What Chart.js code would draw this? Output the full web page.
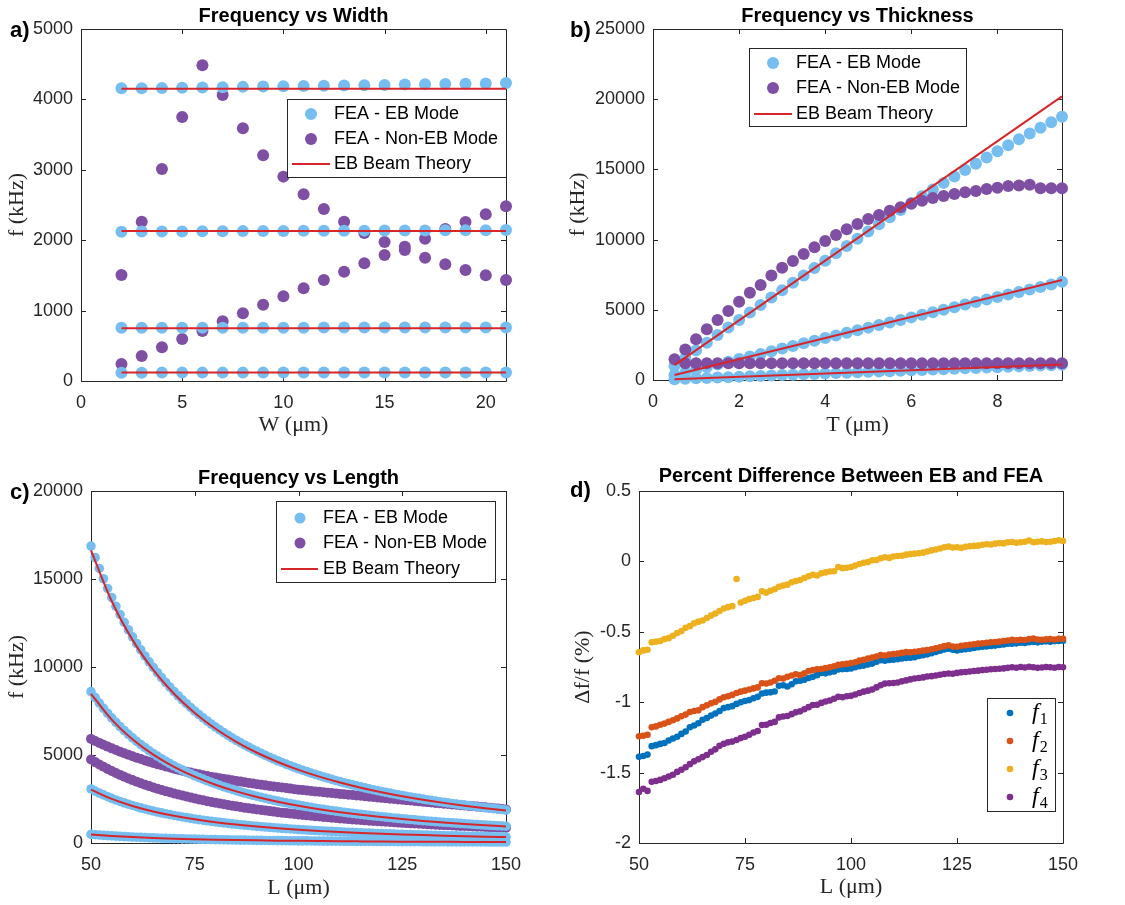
<!DOCTYPE html>
<html>
<head>
<meta charset="utf-8">
<title>Frequency study</title>
<script src="https://cdn.jsdelivr.net/npm/chart.js@4/dist/chart.umd.min.js"></script>
<style>
  body { margin: 0; background: #fff; }
  #wrap { position: relative; width: 1125px; height: 905px; }
  canvas { position: absolute; }
</style>
</head>
<body>
<div id="wrap">
  <canvas id="chartA" width="560" height="440" style="left:0;top:0"></canvas>
  <canvas id="chartB" width="565" height="440" style="left:560px;top:0"></canvas>
  <canvas id="chartC" width="560" height="455" style="left:0;top:450px"></canvas>
  <canvas id="chartD" width="565" height="455" style="left:560px;top:450px"></canvas>
</div>
<script>
// a) frequency vs width
const widthW = [2,3,4,5,6,7,8,9,10,11,12,13,14,15,16,17,18,19,20,21];
const widthEb1 = [118,118,119,119,119,119,119,119,120,120,120,120,120,120,120,121,121,121,121,121];
const widthEb2 = [755,756,756,757,757,757,758,758,758,758,759,759,759,759,760,760,760,760,761,761];
const widthEb3 = [2121,2122,2124,2125,2126,2128,2129,2130,2131,2133,2134,2135,2136,2137,2138,2139,2140,2142,2143,2145];
const widthEb4 = [4157,4160,4163,4167,4170,4174,4178,4182,4186,4190,4194,4198,4202,4206,4210,4214,4218,4222,4227,4232];
const widthNonEbA = [1506,2263,3011,3750,4484,4063,3589,3206,2903,2652,2443,2263,2102,1975,1908,1752,1657,1577,1501,1435];
const widthNonEbB = [241,355,478,597,710,848,961,1084,1203,1316,1435,1553,1672,1790,1861,2022,2159,2259,2368,2481];
const widthTheoryW = [2, 21];
const widthTheory1 = [120, 120];
const widthTheory2 = [750, 750];
const widthTheory3 = [2130, 2130];
const widthTheory4 = [4150, 4150];

// b) frequency vs thickness
const thickT = [0.5,0.75,1,1.25,1.5,1.75,2,2.25,2.5,2.75,3,3.25,3.5,3.75,4,4.25,4.5,4.75,5,5.25,5.5,5.75,6,6.25,6.5,6.75,7,7.25,7.5,7.75,8,8.25,8.5,8.75,9,9.25,9.5];
const thickEb1 = [60,90,120,150,180,200,230,260,290,320,350,380,410,430,460,490,520,550,580,600,630,660,690,720,750,770,800,830,860,890,910,940,970,1000,1030,1050,1080];
const thickEb2 = [360,540,730,920,1110,1300,1490,1680,1860,2050,2240,2430,2610,2800,2990,3170,3360,3540,3730,3910,4100,4280,4460,4650,4830,5010,5190,5370,5550,5730,5910,6090,6270,6450,6630,6810,6990];
const thickEb3 = [1000,1560,2110,2660,3200,3740,4270,4810,5340,5870,6400,6920,7450,7970,8500,9020,9540,10060,10580,11090,11600,12100,12600,13090,13570,14040,14500,14960,15410,15850,16290,16720,17140,17550,17960,18360,18750];
const thickNonEbFlat = [null,1190,1190,1190,1190,1195,1195,1195,1195,1195,1195,1195,1195,1200,1200,1200,1200,1200,1200,1200,1200,1200,1200,1200,1200,1200,1200,1200,1200,1200,1200,1200,1200,1200,1200,1200,1200];
const thickNonEbRise = [1470,2180,2900,3610,4270,4910,5580,6220,6770,7450,8000,8480,8970,9450,9900,10330,10730,11110,11470,11750,12060,12300,12560,12770,12960,13100,13250,13370,13460,13600,13700,13820,13860,13910,13650,13650,13650];
const thickTheoryT = [0.5, 9.5];
const thickTheory1 = [60, 1100];
const thickTheory2 = [360, 7120];
const thickTheory3 = [1063, 20200];

// c) frequency vs length
const lenL = [50,51,52,53,54,55,56,57,58,59,
  60,61,62,63,64,65,66,67,68,69,
  70,71,72,73,74,75,76,77,78,79,
  80,81,82,83,84,85,86,87,88,89,
  90,91,92,93,94,95,96,97,98,99,
  100,101,102,103,104,105,106,107,108,109,
  110,111,112,113,114,115,116,117,118,119,
  120,121,122,123,124,125,126,127,128,129,
  130,131,132,133,134,135,136,137,138,139,
  140,141,142,143,144,145,146,147,148,149,
  150];
const lenEb4 = [16870,16215,15598,15014,14463,13941,13449,12981,12538,12116,
  11714,11335,10972,10626,10297,9982,9682,9395,9120,8858,
  8607,8366,8136,7914,7701,7497,7301,7114,6932,6758,
  6589,6427,6272,6122,5977,5837,5702,5572,5446,5324,
  5206,5093,4983,4875,4772,4673,4577,4482,4391,4304,
  4218,4135,4054,3976,3899,3826,3754,3684,3615,3549,
  3485,3423,3362,3303,3246,3188,3134,3080,3028,2978,
  2929,2881,2834,2787,2743,2699,2657,2615,2574,2534,
  2495,2458,2421,2384,2348,2315,2281,2247,2215,2183,
  2153,2122,2092,2063,2035,2006,1979,1952,1925,1900,
  1874];
const lenEb3 = [8600,8266,7952,7654,7373,7107,6856,6618,6392,6177,
  5972,5778,5593,5417,5249,5089,4936,4789,4649,4516,
  4388,4265,4148,4034,3926,3822,3722,3627,3534,3445,
  3359,3277,3197,3121,3047,2976,2907,2841,2776,2714,
  2654,2596,2540,2485,2433,2382,2333,2285,2239,2194,
  2150,2108,2067,2027,1987,1950,1914,1878,1843,1809,
  1777,1745,1714,1684,1655,1625,1598,1570,1544,1518,
  1493,1469,1445,1421,1398,1376,1355,1333,1312,1292,
  1272,1253,1234,1215,1197,1180,1163,1146,1129,1113,
  1097,1082,1066,1052,1037,1023,1009,995,981,968,
  955];
const lenEb2 = [3070,2951,2839,2732,2632,2537,2447,2362,2282,2205,
  2132,2063,1997,1934,1874,1817,1762,1710,1660,1612,
  1566,1522,1481,1440,1401,1364,1329,1295,1261,1230,
  1199,1170,1141,1114,1088,1062,1038,1014,991,969,
  947,927,907,887,868,850,833,816,799,783,
  768,752,738,724,709,696,683,670,658,646,
  634,623,612,601,591,580,570,561,551,542,
  533,524,516,507,499,491,484,476,468,461,
  454,447,441,434,427,421,415,409,403,397,
  392,386,381,375,370,365,360,355,350,346,
  341];
const lenEb1 = [490,471,453,436,420,405,391,377,364,352,
  340,329,319,309,299,290,281,273,265,257,
  250,243,236,230,224,218,212,207,201,196,
  191,187,182,178,174,170,166,162,158,155,
  151,148,145,142,139,136,133,130,128,125,
  123,120,118,115,113,111,109,107,105,103,
  101,99,98,96,94,93,91,89,88,86,
  85,84,82,81,80,78,77,76,75,74,
  72,71,70,69,68,67,66,65,64,63,
  63,62,61,60,59,58,57,57,56,55,
  54];
const lenNonEbA = [5915,5799,5688,5580,5477,5377,5281,5189,5099,5013,
  4929,4848,4770,4694,4621,4550,4481,4414,4349,4286,
  4225,4166,4110,4055,4002,3950,3900,3851,3803,3756,
  3720,3680,3641,3602,3563,3525,3488,3451,3414,3377,
  3340,3308,3276,3244,3212,3181,3150,3120,3090,3060,
  3030,3005,2981,2957,2933,2909,2885,2861,2837,2813,
  2790,2768,2746,2724,2702,2680,2657,2634,2611,2588,
  2565,2543,2521,2499,2477,2455,2433,2411,2389,2367,
  2345,2323,2301,2279,2257,2235,2214,2193,2172,2151,
  2130,2109,2088,2067,2046,2025,2002,1979,1956,1933,
  1910];
const lenNonEbB = [4740,4597,4460,4331,4207,4089,3976,3869,3766,3667,
  3573,3483,3397,3314,3233,3156,3083,3013,2945,2879,
  2814,2753,2694,2637,2582,2528,2476,2426,2378,2332,
  2288,2244,2202,2161,2121,2082,2045,2009,1974,1940,
  1906,1874,1843,1813,1783,1753,1725,1698,1671,1645,
  1619,1594,1570,1547,1524,1501,1479,1458,1437,1416,
  1396,1377,1358,1339,1321,1303,1286,1269,1252,1236,
  1220,1204,1189,1174,1159,1145,1131,1117,1104,1091,
  1078,1065,1053,1041,1029,1017,1005,994,983,972,
  961,950,940,930,920,910,900,890,881,872,
  863];
const lenTheoryL = [50,55,60,65,70,75,80,85,90,95,100,105,110,115,120,125,130,135,140,145,150];
const lenTheory4 = [16620,13735,11541,9834,8480,7386,6492,5751,5129,4604,4155,3769,3434,3141,2885,2659,2458,2280,2121,1976,1847];
const lenTheory3 = [8480,7008,5889,5018,4327,3769,3312,2934,2617,2349,2120,1923,1752,1603,1472,1357,1254,1163,1082,1008,942];
const lenTheory2 = [3030,2504,2104,1793,1546,1347,1184,1048,935,839,758,687,626,573,526,485,448,416,387,360,337];
const lenTheory1 = [485,401,337,287,247,216,189,168,150,134,121,110,100,92,84,78,72,67,62,58,54];

// d) percent difference between EB and FEA (x = lenL)
const diffF1 = [-1.388,-1.382,-1.372,-1.312,-1.305,-1.296,-1.290,-1.272,-1.258,-1.245,
  -1.225,-1.208,-1.178,-1.165,-1.150,-1.125,-1.112,-1.095,-1.080,-1.062,
  -1.042,-1.035,-1.028,-1.012,-1.000,-0.992,-0.985,-0.972,-0.962,-0.938,
  -0.932,-0.930,-0.924,-0.884,-0.880,-0.888,-0.872,-0.852,-0.848,-0.840,
  -0.828,-0.820,-0.808,-0.792,-0.795,-0.788,-0.782,-0.768,-0.765,-0.764,
  -0.760,-0.752,-0.745,-0.740,-0.732,-0.726,-0.712,-0.702,-0.705,-0.700,
  -0.698,-0.695,-0.690,-0.686,-0.684,-0.680,-0.672,-0.666,-0.660,-0.652,
  -0.643,-0.635,-0.626,-0.620,-0.628,-0.632,-0.628,-0.624,-0.620,-0.615,
  -0.610,-0.606,-0.604,-0.600,-0.598,-0.594,-0.590,-0.585,-0.584,-0.582,
  -0.578,-0.580,-0.574,-0.572,-0.575,-0.570,-0.568,-0.570,-0.566,-0.565,
  -0.564];
const diffF2 = [-1.242,-1.238,-1.232,-1.178,-1.172,-1.160,-1.152,-1.140,-1.128,-1.115,
  -1.100,-1.088,-1.070,-1.062,-1.058,-1.035,-1.022,-1.008,-0.998,-0.980,
  -0.965,-0.958,-0.948,-0.935,-0.925,-0.918,-0.910,-0.902,-0.895,-0.865,
  -0.868,-0.860,-0.848,-0.830,-0.832,-0.820,-0.810,-0.802,-0.808,-0.795,
  -0.778,-0.772,-0.766,-0.764,-0.758,-0.752,-0.745,-0.735,-0.730,-0.728,
  -0.722,-0.716,-0.705,-0.698,-0.690,-0.682,-0.676,-0.665,-0.668,-0.662,
  -0.658,-0.655,-0.650,-0.644,-0.646,-0.642,-0.638,-0.634,-0.630,-0.624,
  -0.618,-0.610,-0.602,-0.596,-0.604,-0.606,-0.600,-0.596,-0.592,-0.588,
  -0.584,-0.582,-0.578,-0.574,-0.572,-0.570,-0.565,-0.562,-0.556,-0.560,
  -0.556,-0.558,-0.552,-0.548,-0.555,-0.556,-0.554,-0.552,-0.555,-0.550,
  -0.550];
const diffF3 = [-0.645,-0.632,-0.628,-0.575,-0.570,-0.565,-0.552,-0.545,-0.528,-0.508,
  -0.495,-0.472,-0.460,-0.440,-0.428,-0.420,-0.402,-0.385,-0.370,-0.352,
  -0.335,-0.325,-0.318,-0.125,-0.292,-0.280,-0.268,-0.260,-0.252,-0.212,
  -0.222,-0.208,-0.198,-0.180,-0.172,-0.165,-0.148,-0.140,-0.132,-0.118,
  -0.105,-0.095,-0.100,-0.085,-0.078,-0.072,-0.070,-0.040,-0.048,-0.045,
  -0.040,-0.030,-0.018,-0.010,-0.005,0.008,0.010,0.022,0.030,0.025,
  0.035,0.038,0.040,0.048,0.052,0.055,0.058,0.062,0.070,0.078,
  0.085,0.092,0.100,0.105,0.098,0.100,0.096,0.104,0.108,0.110,
  0.112,0.118,0.122,0.120,0.126,0.130,0.128,0.136,0.138,0.132,
  0.136,0.140,0.148,0.136,0.140,0.142,0.138,0.140,0.145,0.150,
  0.145];
const diffF4 = [-1.638,-1.615,-1.630,-1.565,-1.560,-1.552,-1.540,-1.528,-1.515,-1.495,
  -1.480,-1.462,-1.440,-1.420,-1.405,-1.390,-1.375,-1.352,-1.335,-1.310,
  -1.295,-1.285,-1.280,-1.268,-1.255,-1.245,-1.232,-1.215,-1.205,-1.162,
  -1.160,-1.148,-1.140,-1.108,-1.102,-1.098,-1.085,-1.072,-1.065,-1.050,
  -1.035,-1.020,-1.018,-1.005,-0.995,-0.988,-0.975,-0.962,-0.965,-0.958,
  -0.955,-0.945,-0.935,-0.925,-0.918,-0.910,-0.895,-0.880,-0.868,-0.865,
  -0.864,-0.860,-0.852,-0.845,-0.838,-0.832,-0.828,-0.824,-0.818,-0.815,
  -0.810,-0.805,-0.800,-0.796,-0.798,-0.792,-0.788,-0.785,-0.782,-0.778,
  -0.776,-0.772,-0.770,-0.766,-0.764,-0.762,-0.760,-0.756,-0.752,-0.755,
  -0.750,-0.754,-0.748,-0.752,-0.756,-0.754,-0.750,-0.752,-0.755,-0.750,
  -0.752];

const EB_BLUE = '#77BEF0';
const NON_EB = '#7E4FA3';
const THEORY = '#D7262B';
const INK = '#262626';
const SANS = '"Liberation Sans", Arial, Helvetica, sans-serif';
const SERIF = '"Liberation Serif", "Times New Roman", serif';

function pts(xs, ys) {
  return xs.map((x, i) => ({ x: x, y: ys[i] }));
}

function dots(label, xs, ys, color, r, order) {
  return {
    label: label, data: pts(xs, ys), backgroundColor: color, borderWidth: 0,
    pointRadius: r, pointHoverRadius: r, showLine: false, order: order, clip: false
  };
}

function curve(label, xs, ys, order) {
  return {
    label: label, data: pts(xs, ys), borderColor: THEORY, backgroundColor: THEORY,
    borderWidth: 2, pointRadius: 0, pointHoverRadius: 0, showLine: true,
    cubicInterpolationMode: 'monotone', fill: false, order: order, clip: false
  };
}

// box, inward ticks, legend and panel letter
const framePlugin = {
  id: 'frame',
  beforeDatasetsDraw(chart, args, opts) {
    const ctx = chart.ctx;
    const a = chart.chartArea;
    const xs = chart.scales.x, ys = chart.scales.y;
    ctx.save();
    ctx.strokeStyle = INK;
    ctx.lineWidth = 1;
    ctx.beginPath();
    ctx.rect(Math.round(a.left) + 0.5, Math.round(a.top) + 0.5,
      Math.round(a.right - a.left), Math.round(a.bottom - a.top));
    xs.ticks.forEach(t => {
      const p = Math.round(xs.getPixelForValue(t.value)) + 0.5;
      ctx.moveTo(p, a.bottom); ctx.lineTo(p, a.bottom - 5);
      ctx.moveTo(p, a.top); ctx.lineTo(p, a.top + 5);
    });
    ys.ticks.forEach(t => {
      const p = Math.round(ys.getPixelForValue(t.value)) + 0.5;
      ctx.moveTo(a.left, p); ctx.lineTo(a.left + 5, p);
      ctx.moveTo(a.right, p); ctx.lineTo(a.right - 5, p);
    });
    ctx.stroke();
    ctx.restore();
  },
  afterDraw(chart, args, opts) {
    const ctx = chart.ctx;
    ctx.save();
    // panel letter
    ctx.fillStyle = '#000';
    ctx.font = 'bold 22px ' + SANS;
    ctx.textBaseline = 'middle';
    ctx.textAlign = 'left';
    ctx.fillText(opts.letter, 10, opts.letterY);
    // legend
    const lg = opts.legend;
    const [x0, y0, x1, y1] = lg.box;
    ctx.fillStyle = '#fff';
    ctx.fillRect(x0, y0, x1 - x0, y1 - y0);
    ctx.strokeStyle = INK;
    ctx.lineWidth = 1;
    ctx.strokeRect(x0 + 0.5, y0 + 0.5, x1 - x0, y1 - y0);
    lg.items.forEach(it => {
      if (it.kind === 'line') {
        ctx.strokeStyle = it.color;
        ctx.lineWidth = 2;
        ctx.beginPath();
        ctx.moveTo(lg.lineX[0], it.y);
        ctx.lineTo(lg.lineX[1], it.y);
        ctx.stroke();
      } else {
        ctx.fillStyle = it.color;
        ctx.beginPath();
        ctx.arc(lg.markerX, it.y, it.r, 0, Math.PI * 2);
        ctx.fill();
      }
      ctx.fillStyle = '#000';
      ctx.textBaseline = 'middle';
      if (it.sub) {
        ctx.font = 'italic 24px ' + SERIF;
        ctx.fillText(it.text, lg.textX, it.y);
        const w = ctx.measureText(it.text).width;
        ctx.font = '16px ' + SERIF;
        ctx.fillText(it.sub, lg.textX + w + 1, it.y + 7);
      } else {
        ctx.font = '18px ' + SANS;
        ctx.fillText(it.text, lg.textX, it.y);
      }
    });
    ctx.restore();
  }
};

function axes(c) {
  const tickFont = { family: SANS, size: 18 };
  return {
    x: {
      type: 'linear', min: c.xMin, max: c.xMax,
      ticks: { stepSize: c.xStep, includeBounds: false, padding: 11, font: tickFont, color: INK, maxRotation: 0, callback: v => String(v) },
      grid: { display: false, drawTicks: false },
      border: { display: false },
      title: { display: true, text: c.xTitle, color: INK, font: { family: SERIF, size: 22 }, padding: { top: 0, bottom: c.xTitlePad } },
      afterFit: s => { s.height = c.xHeight; }
    },
    y: {
      type: 'linear', min: c.yMin, max: c.yMax,
      ticks: { stepSize: c.yStep, includeBounds: false, padding: 8, font: tickFont, color: INK, callback: v => String(v) },
      grid: { display: false, drawTicks: false },
      border: { display: false },
      title: { display: true, text: c.yTitle, color: INK, font: { family: SERIF, size: 22 }, padding: { top: c.yTitlePad, bottom: 0 } },
      afterFit: s => { s.width = c.yWidth; }
    }
  };
}

function makeChart(id, datasets, c) {
  return new Chart(document.getElementById(id), {
    type: 'scatter',
    data: { datasets: datasets },
    options: {
      responsive: false,
      animation: false,
      events: [],
      layout: { padding: { left: 0, right: c.padRight, top: 0, bottom: 0 } },
      scales: axes(c),
      plugins: {
        legend: { display: false },
        tooltip: { enabled: false },
        title: {
          display: true, text: c.title, fullSize: false, color: '#000',
          font: { family: SANS, size: 20, weight: 'bold' },
          padding: { top: c.titleTop, bottom: c.titleBottom }
        },
        frame: { letter: c.letter, letterY: c.letterY, legend: c.legend }
      }
    },
    plugins: [framePlugin]
  });
}

// a)
makeChart('chartA', [
  curve('EB Beam Theory', widthTheoryW, widthTheory1, 0),
  curve('EB Beam Theory', widthTheoryW, widthTheory2, 0),
  curve('EB Beam Theory', widthTheoryW, widthTheory3, 0),
  curve('EB Beam Theory', widthTheoryW, widthTheory4, 0),
  dots('FEA - EB Mode', widthW, widthEb1, EB_BLUE, 6, 1),
  dots('FEA - EB Mode', widthW, widthEb2, EB_BLUE, 6, 1),
  dots('FEA - EB Mode', widthW, widthEb3, EB_BLUE, 6, 1),
  dots('FEA - EB Mode', widthW, widthEb4, EB_BLUE, 6, 1),
  dots('FEA - Non-EB Mode', widthW, widthNonEbA, NON_EB, 6, 2),
  dots('FEA - Non-EB Mode', widthW, widthNonEbB, NON_EB, 6, 2)
], {
  title: 'Frequency vs Width', titleTop: 4, titleBottom: 1,
  xMin: 0, xMax: 21, xStep: 5, xTitle: 'W (\u03bcm)', xTitlePad: 2, xHeight: 59,
  yMin: 0, yMax: 5000, yStep: 1000, yTitle: 'f (kHz)', yTitlePad: 4, yWidth: 81,
  padRight: 54, letter: 'a)', letterY: 31,
  legend: {
    box: [287, 99, 506, 177], markerX: 311, lineX: [292, 330], textX: 334,
    items: [
      { text: 'FEA - EB Mode', kind: 'dot', color: EB_BLUE, r: 6, y: 114 },
      { text: 'FEA - Non-EB Mode', kind: 'dot', color: NON_EB, r: 6, y: 139 },
      { text: 'EB Beam Theory', kind: 'line', color: THEORY, y: 164 }
    ]
  }
});

// b)
makeChart('chartB', [
  curve('EB Beam Theory', thickTheoryT, thickTheory1, 0),
  curve('EB Beam Theory', thickTheoryT, thickTheory2, 0),
  curve('EB Beam Theory', thickTheoryT, thickTheory3, 0),
  dots('FEA - Non-EB Mode', thickT, thickNonEbFlat, NON_EB, 6, 1),
  dots('FEA - Non-EB Mode', thickT, thickNonEbRise, NON_EB, 6, 1),
  dots('FEA - EB Mode', thickT, thickEb1, EB_BLUE, 6, 2),
  dots('FEA - EB Mode', thickT, thickEb2, EB_BLUE, 6, 2),
  dots('FEA - EB Mode', thickT, thickEb3, EB_BLUE, 6, 2)
], {
  title: 'Frequency vs Thickness', titleTop: 4, titleBottom: 1,
  xMin: 0, xMax: 9.5, xStep: 2, xTitle: 'T (\u03bcm)', xTitlePad: 2, xHeight: 60,
  yMin: 0, yMax: 25000, yStep: 5000, yTitle: 'f (kHz)', yTitlePad: 5, yWidth: 93,
  padRight: 63, letter: 'b)', letterY: 31,
  legend: {
    box: [189, 48, 406, 126], markerX: 213, lineX: [194, 232], textX: 236,
    items: [
      { text: 'FEA - EB Mode', kind: 'dot', color: EB_BLUE, r: 6, y: 63 },
      { text: 'FEA - Non-EB Mode', kind: 'dot', color: NON_EB, r: 6, y: 88 },
      { text: 'EB Beam Theory', kind: 'line', color: THEORY, y: 114 }
    ]
  }
});

// c)
makeChart('chartC', [
  curve('EB Beam Theory', lenTheoryL, lenTheory1, 0),
  curve('EB Beam Theory', lenTheoryL, lenTheory2, 0),
  curve('EB Beam Theory', lenTheoryL, lenTheory3, 0),
  curve('EB Beam Theory', lenTheoryL, lenTheory4, 0),
  dots('FEA - EB Mode', lenL, lenEb1, EB_BLUE, 4.8, 1),
  dots('FEA - EB Mode', lenL, lenEb2, EB_BLUE, 4.8, 1),
  dots('FEA - EB Mode', lenL, lenEb3, EB_BLUE, 4.8, 1),
  dots('FEA - EB Mode', lenL, lenEb4, EB_BLUE, 4.8, 1),
  dots('FEA - Non-EB Mode', lenL, lenNonEbA, NON_EB, 5, 2),
  dots('FEA - Non-EB Mode', lenL, lenNonEbB, NON_EB, 5, 2)
], {
  title: 'Frequency vs Length', titleTop: 16, titleBottom: 1,
  xMin: 50, xMax: 150, xStep: 25, xTitle: 'L (\u03bcm)', xTitlePad: 4, xHeight: 62,
  yMin: 0, yMax: 20000, yStep: 5000, yTitle: 'f (kHz)', yTitlePad: 4, yWidth: 91,
  padRight: 54, letter: 'c)', letterY: 43,
  legend: {
    box: [276, 51, 495, 132], markerX: 300, lineX: [281, 318], textX: 323,
    items: [
      { text: 'FEA - EB Mode', kind: 'dot', color: EB_BLUE, r: 5.5, y: 68 },
      { text: 'FEA - Non-EB Mode', kind: 'dot', color: NON_EB, r: 5.5, y: 93 },
      { text: 'EB Beam Theory', kind: 'line', color: THEORY, y: 119 }
    ]
  }
});

// d)
makeChart('chartD', [
  dots('f1', lenL, diffF1, '#0072BD', 3.3, 4),
  dots('f2', lenL, diffF2, '#D95319', 3.3, 3),
  dots('f3', lenL, diffF3, '#EDB120', 3.3, 2),
  dots('f4', lenL, diffF4, '#7E2F8E', 3.3, 1)
], {
  title: 'Percent Difference Between EB and FEA', titleTop: 14, titleBottom: 3,
  xMin: 50, xMax: 150, xStep: 25, xTitle: 'L (\u03bcm)', xTitlePad: 5, xHeight: 62,
  yMin: -2, yMax: 0.5, yStep: 0.5, yTitle: '\u0394f/f (%)', yTitlePad: 10, yWidth: 79,
  padRight: 62, letter: 'd)', letterY: 41,
  legend: {
    box: [427, 248, 495, 361], markerX: 450, lineX: [440, 460], textX: 472,
    items: [
      { text: 'f', sub: '1', kind: 'dot', color: '#0072BD', r: 3.3, y: 263 },
      { text: 'f', sub: '2', kind: 'dot', color: '#D95319', r: 3.3, y: 291 },
      { text: 'f', sub: '3', kind: 'dot', color: '#EDB120', r: 3.3, y: 319 },
      { text: 'f', sub: '4', kind: 'dot', color: '#7E2F8E', r: 3.3, y: 347 }
    ]
  }
});
</script>
</body>
</html>
